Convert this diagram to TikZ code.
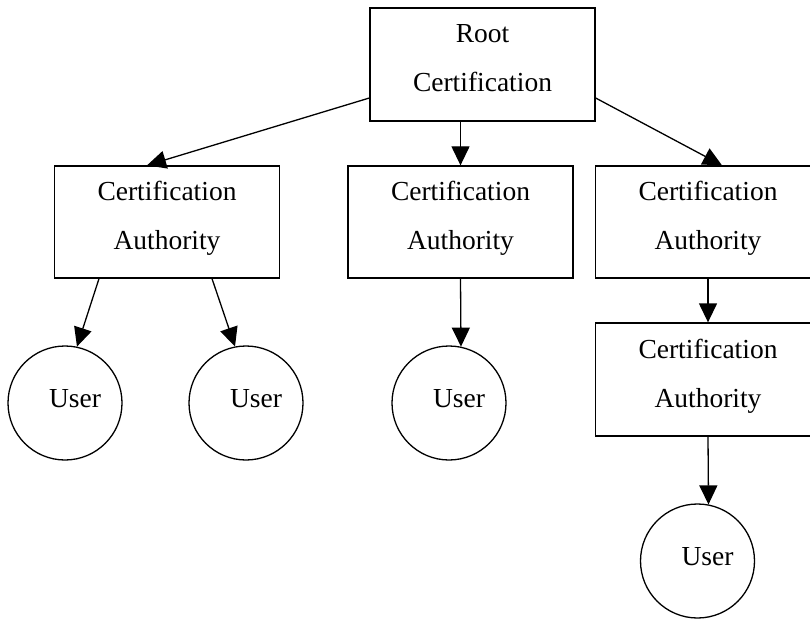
\documentclass[tikz,border=0pt]{standalone}
\usepackage{fontspec}
\setmainfont{Liberation Serif}
\usetikzlibrary{arrows.meta}

\newcommand{\lowstrut}[1]{\rule[-#1]{0pt}{#1}}

\begin{document}
\begin{tikzpicture}
  [x=1pt, y=-1pt,
   font=\fontsize{27.5}{49}\selectfont,
   line width=1.3pt,
   box/.style={draw, rectangle, minimum width=225pt, minimum height=112pt, align=center},
   user/.style={draw, circle, minimum size=114pt},
   tip/.style={-{Triangle[length=19pt, width=18pt]}}]
  \useasboundingbox (0, 0) rectangle (810, 620);

  \node[box, minimum height=113pt] (root) at (482.5, 64.5) {Root\\Certification\lowstrut{13pt}};
  \node[box] (ca1) at (167, 222) {Certification\\Authority\lowstrut{13pt}};
  \node[box] (ca2) at (460.5, 222) {Certification\\Authority\lowstrut{13pt}};
  \node[box] (ca3) at (708, 222) {Certification\\Authority\lowstrut{13pt}};
  \node[box, minimum height=113pt] (ca4) at (708, 379.5) {Certification\\Authority\lowstrut{13pt}};

  \node[user] (u1) at (65, 403) {\hspace*{20pt}User\lowstrut{10pt}};
  \node[user] (u2) at (246, 403) {\hspace*{20pt}User\lowstrut{10pt}};
  \node[user] (u3) at (449, 403) {\hspace*{20pt}User\lowstrut{10pt}};
  \node[user] (u4) at (697.5, 561) {\hspace*{20pt}User\lowstrut{10pt}};

  \draw[tip] ([yshift=-33.5pt]root.west) -- ([xshift=-20pt]ca1.north);
  \draw[tip] (root.south -| ca2.north) -- (ca2.north);
  \draw[tip] ([yshift=-33.5pt]root.east) -- ([xshift=14pt]ca3.north);
  \draw[tip] ([xshift=-68pt]ca1.south) -- (u1.78);
  \draw[tip] ([xshift=45pt]ca1.south) -- (u2.101);
  \draw[tip] (ca2.south) -- (u3.78);
  \draw[tip] (ca3.south) -- (ca4.north);
  \draw[tip] (ca4.south) -- (u4.79);
\end{tikzpicture}
\end{document}
